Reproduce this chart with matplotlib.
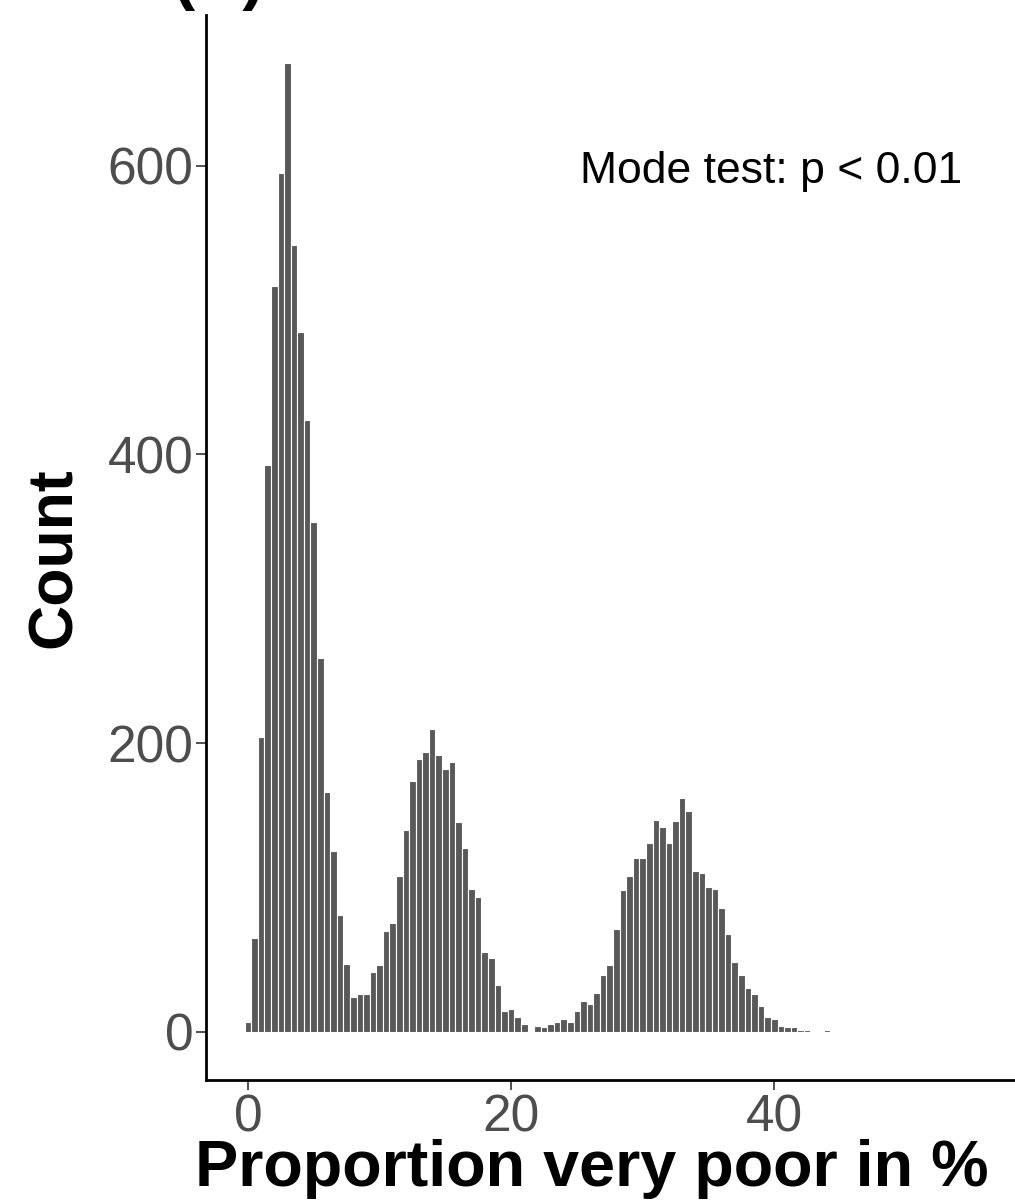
import matplotlib
matplotlib.use("Agg")
import matplotlib.pyplot as plt

plt.rcParams['font.family'] = ['Liberation Sans', 'DejaVu Sans']

# Centros das classes (largura 0.5) e contagens
centros = [i * 0.5 for i in range(89)]
contagens = [7, 65, 204, 393, 517, 595, 671, 545, 485, 424,
             353, 259, 166, 125, 81, 47, 24, 26, 26, 41,
             46, 70, 75, 108, 140, 174, 189, 194, 210, 192,
             182, 187, 145, 127, 99, 93, 55, 51, 32, 14,
             16, 10, 5, 0, 4, 3, 5, 7, 9, 7,
             14, 21, 19, 27, 39, 46, 71, 98, 108, 120,
             120, 131, 147, 142, 131, 146, 162, 153, 111, 110,
             100, 99, 86, 68, 48, 39, 30, 26, 18, 10,
             9, 4, 3, 3, 1, 1, 0, 0, 1]

yticks = [0, 200, 400, 600]
xticks = [0, 20, 40]

fig = plt.figure(figsize=(10.15, 12.04), dpi=100)
ax = fig.add_axes([206 / 1015, 1 - 1080 / 1204, 1 - 206 / 1015, (1080 - 15) / 1204])

ax.bar(centros, contagens, width=0.5, color='#595959', edgecolor='white', linewidth=0.8)

ax.set_xlim(-3.19, 58.3)
ax.set_ylim(-33.5, 704.5)

ax.set_xticks(xticks)
ax.set_yticks(yticks)
ax.tick_params(axis='both', labelsize=37, labelcolor='#4D4D4D', color='#333333',
               length=7, width=1.2)
ax.tick_params(axis='y', pad=2)
ax.tick_params(axis='x', pad=3)

for lado in ['top', 'right']:
    ax.spines[lado].set_visible(False)
for lado in ['left', 'bottom']:
    ax.spines[lado].set_linewidth(2)

# Rótulos dos eixos
ax.set_xlabel("Proportion very poor in %", fontsize=46.5, fontweight='bold')
ax.xaxis.set_label_coords((592 - 206) / 809, -(1186 - 1080) / 1065)
ax.xaxis.label.set_verticalalignment('baseline')

ax.set_ylabel("Count", fontsize=45, fontweight='bold')
ax.yaxis.set_label_coords((84 - 206) / 809, (1080 - 558) / 1065)

ax.text(25.2, 596, "Mode test: p < 0.01", fontsize=32, va='center', ha='left')

fig.text(219 / 1015, 1 + 3 / 1204, "(A)", fontsize=48, fontweight='bold',
         ha='center', va='baseline')

fig.savefig("out.png", dpi=100)
